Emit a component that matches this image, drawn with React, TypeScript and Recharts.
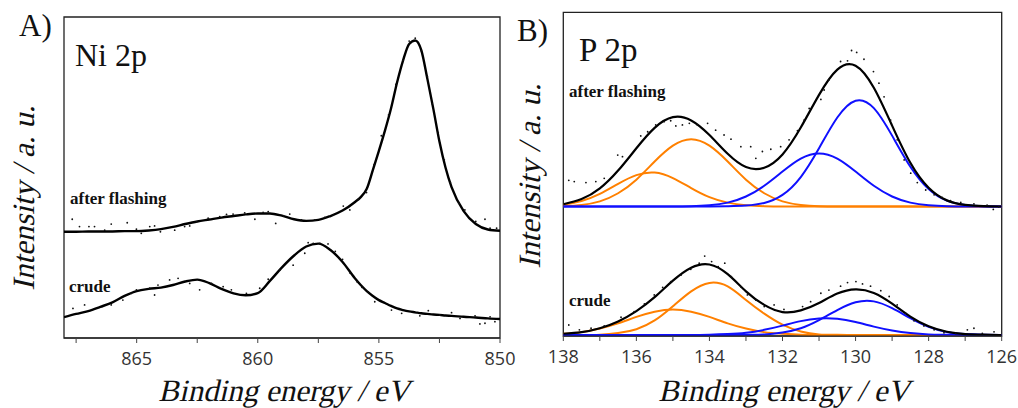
import { ComposedChart, Line, ReferenceArea, Scatter, XAxis, YAxis } from "recharts";

// ---- A) Ni 2p ----
const niEnergy = [
  868, 867.5, 867, 866.5, 866, 865.5, 865, 864.5, 864, 863.5, 863, 862.5, 862, 861.5, 861, 860.5, 860,
  859.5, 859, 858.5, 858, 857.5, 857, 856.5, 856, 855.75, 855.5, 855.25, 855, 854.75, 854.5, 854.25, 854,
  853.75, 853.5, 853.25, 853, 852.75, 852.5, 852.25, 852, 851.5, 851, 850.5, 850,
];
const niAfterFit = [
  33.1, 33.1, 33.2, 33.2, 33.2, 33.3, 33.3, 33.5, 33.9, 34.6, 35.5, 36.3, 36.9, 37.5, 38.0, 38.5, 38.8,
  38.8, 38.1, 37.0, 36.5, 36.8, 38.0, 39.7, 42.3, 43.9, 46.5, 52.3, 58.3, 64.6, 71.5, 79.6, 86.5,
  91.6, 92.7, 89.7, 80.8, 71.3, 61.2, 53.1, 47.0, 39.5, 35.5, 33.8, 33.4,
];
const niCrudeFit = [
  6.5, 7.5, 8.4, 9.7, 11.1, 13.1, 14.6, 15.3, 15.7, 16.5, 17.6, 18.2, 17.1, 15.3, 13.9, 13.3, 14.0,
  17.8, 22.0, 25.7, 28.5, 29.4, 27.4, 23.7, 18.7, 16.5, 14.6, 13.1, 11.8, 10.9, 10.0, 9.2, 8.7,
  8.3, 8.0, 7.7, 7.5, 7.3, 7.2, 7.0, 6.9, 6.6, 6.4, 6.1, 5.9,
];
const niAfterDots = [
  [867.66, 37.0], [867.36, 34.7], [866.97, 34.7], [866.74, 34.7], [866.32, 33.6], [866.05, 35.5], [865.39, 35.9],
  [865.01, 33.9], [864.81, 32.6], [864.46, 34.7], [864.26, 34.9], [864.02, 33.1], [863.43, 33.6], [863.02, 34.7],
  [862.81, 34.9], [862.53, 36.2], [862.05, 37.3], [861.57, 37.8], [861.29, 38.5], [861.02, 38.6], [860.54, 39.0],
  [860.12, 37.0], [859.78, 39.1], [859.57, 39.4], [859.26, 35.7], [858.95, 38.0], [858.68, 38.6], [858.2, 36.8],
  [857.64, 36.8], [857.23, 37.6], [856.89, 38.3], [856.47, 41.1], [856.2, 39.9], [855.85, 43.2], [855.51, 45.3],
  [855.2, 54], [854.9, 63], [854.6, 69.5], [854.3, 79], [854.0, 86.5], [853.75, 92.5], [853.5, 93.4],
  [853.25, 89.5], [853.0, 81.5], [852.8, 73], [852.55, 64], [852.3, 55.5], [852.05, 48.5], [851.7, 42],
  [851.45, 39.9], [851.0, 36.3], [850.62, 37.0], [850.41, 34.2], [850.14, 34.2],
];
const niCrudeDots = [
  [867.63, 9.2], [867.15, 10.3], [866.05, 10.3], [865.57, 11.8], [865.22, 13.9], [865.01, 15.0], [864.46, 15.5],
  [864.26, 13.4], [864.12, 16.5], [863.64, 18.1], [863.29, 18.6], [862.81, 17.0], [862.4, 15.0], [861.91, 17.0],
  [861.43, 16.0], [861.09, 15.0], [860.47, 13.9], [859.92, 15.5], [859.57, 18.3], [859.09, 21.2], [858.54, 22.7],
  [858.06, 26.4], [857.92, 29.7], [857.71, 29.5], [857.44, 29.5], [857.1, 29.3], [856.8, 27.0], [856.5, 24.5],
  [856.2, 20.3], [855.9, 17.5], [855.7, 15.8], [855.44, 14.4], [855.17, 11.3], [854.48, 8.7], [854.06, 7.7],
  [853.31, 6.9], [852.96, 8.5], [852.48, 7.2], [852.0, 7.9], [851.65, 6.1], [851.03, 6.9], [850.83, 4.4],
  [850.62, 4.6], [850.41, 6.6], [850.21, 5.1],
];
const niTicks = [867.5, 865, 862.5, 860, 857.5, 855, 852.5, 850];
const niFrameTicks = [8, 16, 24, 32, 40, 48, 56, 64, 72, 80, 88, 96];

// ---- B) P 2p ----
const pEnergy = [138, 137.5, 137, 136.5, 136, 135.5, 135, 134.5, 134, 133.5, 133, 132.5, 132, 131.5, 131, 130.5, 130, 129.5, 129, 128.5, 128, 127.5, 127, 126.5, 126];
const afOrange1 = [40.6, 41.7, 43.9, 47.0, 49.7, 50.5, 48.8, 45.7, 42.9, 41.2, 40.4, 40.1, 40, 40, 40, 40, 40, 40, 40, 40, 40, 40, 40, 40, 40];
const afOrange2 = [40.1, 40.5, 41.6, 44.1, 48.3, 53.9, 58.8, 60.8, 58.8, 53.9, 48.3, 44.1, 41.6, 40.5, 40.1, 40, 40, 40, 40, 40, 40, 40, 40, 40, 40];
const afBlue1 = [40, 40, 40, 40, 40, 40, 40, 40.1, 40.4, 41.2, 43.1, 46.4, 50.8, 54.8, 56.4, 54.8, 50.8, 46.4, 43.1, 41.2, 40.4, 40.1, 40, 40, 40];
const afBlue2 = [40, 40, 40, 40, 40, 40, 40, 40, 40, 40.1, 40.3, 41.1, 43.6, 49.1, 58.0, 67.5, 72.7, 70.4, 61.9, 52.3, 45.4, 41.8, 40.5, 40.1, 40];
const afTotal = [40.7, 42.3, 45.6, 51.1, 58.0, 64.3, 67.6, 66.6, 62.1, 56.3, 52.2, 52.0, 56.1, 64.4, 74.5, 82.3, 83.5, 76.7, 65.0, 53.5, 45.8, 41.9, 40.5, 40.1, 40.0];
const crOrange1 = [0.7, 1.2, 2.3, 3.9, 5.9, 7.5, 8.2, 7.5, 5.9, 3.9, 2.3, 1.2, 0.7, 0.4, 0.3, 0.3, 0.3, 0.3, 0.3, 0.3, 0.3, 0.3, 0.3, 0.3, 0.3];
const crOrange2 = [0.3, 0.3, 0.4, 0.9, 2.1, 4.8, 9.2, 13.8, 16.4, 15.3, 11.1, 6.9, 3.5, 1.4, 0.5, 0.4, 0.3, 0.3, 0.3, 0.3, 0.3, 0.3, 0.3, 0.3, 0.3];
const crBlue1 = [0.3, 0.3, 0.3, 0.3, 0.3, 0.3, 0.3, 0.3, 0.4, 0.6, 1.0, 1.9, 3.2, 4.6, 5.4, 5.3, 4.3, 2.9, 1.7, 0.9, 0.5, 0.4, 0.3, 0.3, 0.3];
const crBlue2 = [0.3, 0.3, 0.3, 0.3, 0.3, 0.3, 0.3, 0.3, 0.3, 0.3, 0.4, 0.5, 1.1, 2.4, 4.9, 8.0, 10.4, 10.7, 8.6, 5.5, 2.8, 1.2, 0.6, 0.4, 0.3];
const crTotal = [0.7, 1.2, 2.4, 4.5, 7.7, 12.0, 17.1, 21.1, 22.1, 19.1, 13.8, 9.6, 7.4, 7.9, 10.2, 13.1, 14.4, 13.3, 10.0, 6.0, 3.0, 1.3, 0.6, 0.4, 0.3];
const afDots = [
  [137.85, 48.1], [137.7, 47.7], [137.38, 47.4], [137.11, 47.7], [136.88, 48.7], [136.51, 55.9], [136.38, 55.4],
  [135.88, 61.8], [135.69, 63.1], [135.47, 65.2], [135.24, 66.2], [135.06, 66.5], [134.92, 64.9], [134.74, 65.2],
  [134.55, 65.7], [134.33, 65.2], [134.05, 65.7], [133.83, 63.6], [133.6, 62.1], [133.41, 60.8], [133.14, 58.5],
  [132.87, 58.5], [132.73, 54.9], [132.55, 57.0], [132.32, 57.7], [132.05, 58.5], [131.82, 60.6], [131.59, 63.4],
  [131.41, 66.7], [131.27, 70.3], [130.95, 73.1], [130.86, 76.0], [130.73, 79.1], [130.41, 84.8], [130.22, 85.0],
  [130.11, 88.2], [129.97, 87.6], [129.77, 85.5], [129.51, 81.7], [129.36, 78.1], [129.22, 73.9], [129.04, 66.7],
  [128.86, 60.6], [128.67, 54.4], [128.49, 50.3], [128.31, 47.4], [128.08, 45.1], [127.85, 43.6], [127.63, 42.8],
  [127.4, 41.8], [127.12, 41.3], [126.76, 40.8], [126.4, 40.4], [126.23, 39.1], [126.08, 39.9],
];
const crDots = [
  [137.85, 3.4], [137.56, 1.9], [137.24, 2.4], [136.88, 3.1], [136.42, 5.8], [136.06, 7.5], [135.78, 9.9],
  [135.51, 12.7], [135.28, 15.0], [135.06, 16.8], [134.78, 18.8], [134.51, 20.6], [134.28, 22.5], [134.13, 24.7],
  [133.94, 23.0], [133.76, 21.4], [133.58, 22.5], [133.4, 18.3], [133.14, 15.2], [132.96, 12.7], [132.73, 11.1],
  [132.5, 9.1], [132.23, 9.6], [131.96, 8.2], [131.68, 7.5], [131.45, 9.1], [131.23, 10.6], [130.95, 13.2],
  [130.73, 14.2], [130.41, 15.4], [130.22, 16.5], [129.99, 16.8], [129.81, 16.1], [129.59, 15.4], [129.31, 14.0],
  [129.08, 12.2], [128.86, 9.6], [128.63, 7.0], [128.4, 4.7], [128.13, 3.1], [127.85, 1.9], [127.58, 1.0],
  [127.26, 0.8], [126.94, 1.9], [126.76, 2.4], [126.53, 0.8], [126.21, 1.3],
];
const pTicks = [138, 137, 136, 135, 134, 133, 132, 131, 130, 129, 128, 127, 126];
const pFrameTicks = [7.5, 15, 22.5, 30, 37.5, 45, 52.5, 60, 67.5, 75, 82.5, 90, 97.5];

const ORANGE = "#ff8000";
const BLUE = "#1010ff";
const FRAME = "#222";
const SERIF = "Liberation Serif, DejaVu Serif, serif";

const niData = niEnergy.map((e, i) => ({ e, af: niAfterFit[i], cr: niCrudeFit[i] }));
const pData = pEnergy.map((e, i) => ({
  e,
  ao1: afOrange1[i], ao2: afOrange2[i], ab1: afBlue1[i], ab2: afBlue2[i], at: afTotal[i],
  co1: crOrange1[i], co2: crOrange2[i], cb1: crBlue1[i], cb2: crBlue2[i], ct: crTotal[i],
}));
const toPts = (arr: number[][]) => arr.map(([e, v]) => ({ e, v }));

const Dot = (p: any) => <circle cx={p.cx} cy={p.cy} r={0.9} fill="#111" />;

const tickStyle = { fontSize: 18, fill: "#333", fontFamily: "'Open Sans', sans-serif" };

// slanted serif (no serif italic face is installed, so the roman face is sheared)
function Slant({ x, y, size, rotate, children }: { x: number; y: number; size: number; rotate?: boolean; children: string }) {
  return (
    <text
      transform={`translate(${x},${y})${rotate ? " rotate(-90)" : ""} skewX(-13)`}
      fontSize={size}
      textAnchor="middle"
    >
      {children}
    </text>
  );
}

export default function App() {
  const frameAxes = (xTicks: number[], yTicks: number[], fmt: (v: number) => string, xDomain: number[]) => [
    <XAxis
      key="xb"
      xAxisId="b"
      dataKey="e"
      type="number"
      domain={xDomain}
      reversed
      allowDataOverflow
      ticks={xTicks}
      tickFormatter={fmt}
      tick={tickStyle}
      tickSize={5}
      tickMargin={9}
      height={30}
      stroke={FRAME}
      tickLine={{ stroke: "#444" }}
      interval={0}
    />,
    <XAxis
      key="xt"
      xAxisId="t"
      orientation="top"
      dataKey="e"
      type="number"
      domain={xDomain}
      reversed
      allowDataOverflow
      ticks={xTicks}
      tickFormatter={() => ""}
      mirror
      tickSize={3}
      height={0}
      stroke={FRAME}
      tickLine={{ stroke: "#aaa" }}
      interval={0}
    />,
    <YAxis
      key="yl"
      yAxisId="l"
      domain={[0, 100]}
      type="number"
      ticks={yTicks}
      tickFormatter={() => ""}
      mirror
      tickSize={3}
      width={0}
      stroke={FRAME}
      tickLine={{ stroke: "#aaa" }}
      interval={0}
    />,
    <YAxis
      key="yr"
      yAxisId="r"
      orientation="right"
      domain={[0, 100]}
      type="number"
      ticks={yTicks}
      tickFormatter={() => ""}
      mirror
      tickSize={3}
      width={0}
      stroke={FRAME}
      tickLine={{ stroke: "#aaa" }}
      interval={0}
    />,
    <ReferenceArea
      key="box"
      xAxisId="b"
      yAxisId="l"
      x1={xDomain[0]}
      x2={xDomain[1]}
      y1={0}
      y2={100}
      fill="none"
      stroke={FRAME}
      strokeWidth={1.3}
      ifOverflow="visible"
    />,
  ];

  const ln = (key: string, color: string, curve: "monotone" | "natural", w = 2) => (
    <Line
      key={key}
      xAxisId="b"
      yAxisId="l"
      type={curve}
      dataKey={key}
      stroke={color}
      strokeWidth={w}
      dot={false}
      activeDot={false}
      isAnimationActive={false}
    />
  );
  const dots = (key: string, pts: number[][]) => (
    <Scatter
      key={key}
      xAxisId="b"
      yAxisId="l"
      data={toPts(pts)}
      dataKey="v"
      shape={Dot}
      isAnimationActive={false}
    />
  );

  return (
    <div style={{ position: "absolute", left: 0, top: 0, width: 1018, height: 408, background: "#fff" }}>
      <div style={{ position: "absolute", left: 0, top: 0 }}>
        <ComposedChart width={530} height={408} data={niData} margin={{ top: 17, right: 30, bottom: 40, left: 64 }}>
          {frameAxes(niTicks, niFrameTicks, (v) => (v % 5 === 0 ? String(v) : ""), [850, 868])}
          {ln("af", "#000", "monotone", 2.4)}
          {ln("cr", "#000", "monotone", 2.4)}
          {dots("afd", niAfterDots)}
          {dots("crd", niCrudeDots)}
        </ComposedChart>
      </div>
      <div style={{ position: "absolute", left: 510, top: 0 }}>
        <ComposedChart width={508} height={408} data={pData} margin={{ top: 12.3, right: 16.3, bottom: 42, left: 53.3 }}>
          {frameAxes(pTicks, pFrameTicks, (v) => (v % 2 === 0 ? String(v) : ""), [126, 138])}
          {ln("ao2", ORANGE, "natural")}
          {ln("ao1", ORANGE, "natural")}
          {ln("ab1", BLUE, "natural")}
          {ln("ab2", BLUE, "natural")}
          {ln("co2", ORANGE, "natural")}
          {ln("co1", ORANGE, "natural")}
          {ln("cb1", BLUE, "natural")}
          {ln("cb2", BLUE, "natural")}
          {ln("at", "#000", "natural", 2.2)}
          {ln("ct", "#000", "natural", 2.2)}
          {dots("afd", afDots)}
          {dots("crd", crDots)}
        </ComposedChart>
      </div>
      <svg width={1018} height={408} style={{ position: "absolute", left: 0, top: 0, pointerEvents: "none" }}>
        <g fontFamily={SERIF} fill="#111">
          <text x={19} y={36} fontSize={31}>A)</text>
          <text x={517} y={41} fontSize={31}>B)</text>
          <text x={75} y={66} fontSize={32}>Ni 2p</text>
          <text x={579} y={61} fontSize={33}>P 2p</text>
          <text x={70} y={204} fontSize={17} fontWeight="bold">after flashing</text>
          <text x={69} y={292} fontSize={17} fontWeight="bold">crude</text>
          <text x={569} y={97} fontSize={17} fontWeight="bold">after flashing</text>
          <text x={569} y={306} fontSize={17} fontWeight="bold">crude</text>
          <Slant x={284} y={401} size={31}>Binding energy / eV</Slant>
          <Slant x={784} y={401} size={31}>Binding energy / eV</Slant>
          <Slant x={34} y={198} size={31} rotate>Intensity / a. u.</Slant>
          <Slant x={540} y={176} size={31} rotate>Intensity / a. u.</Slant>
        </g>
      </svg>
    </div>
  );
}
